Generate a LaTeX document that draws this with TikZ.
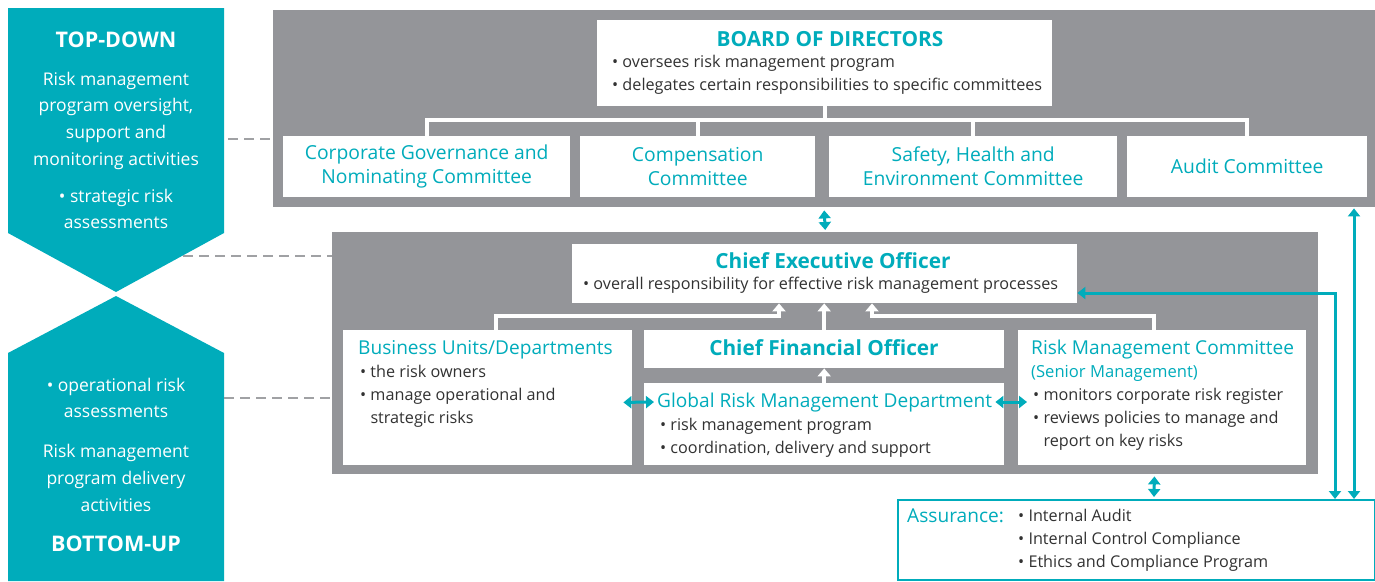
\documentclass[tikz,border=0pt]{standalone}
\usepackage{fontspec}
\setmainfont{Open Sans}
\usetikzlibrary{arrows.meta,calc}
\definecolor{teal1}{RGB}{0,172,187}
\definecolor{pgray}{RGB}{148,149,153}
\definecolor{tgray}{RGB}{50,50,50}
\definecolor{dgray}{RGB}{160,161,164}
\tikzset{
  panel/.style={fill=pgray,draw=none,inner sep=0pt,anchor=north west},
  wbox/.style={fill=white,draw=none,inner sep=0pt,anchor=north west},
  body/.style={text=tgray,font=\fontsize{16.2}{18}\selectfont,anchor=base west,inner sep=0pt},
  thead/.style={text=teal1,font=\fontsize{19.1}{24}\selectfont,anchor=base west,inner sep=0pt},
  chead/.style={text=teal1,font=\fontsize{19.3}{24}\selectfont,align=center,inner sep=0pt},
  bhead/.style={text=teal1,font=\bfseries\fontsize{20.8}{24}\selectfont,inner sep=0pt},
  ltext/.style={text=white,font=\fontsize{17.5}{20}\selectfont,anchor=base,inner sep=0pt},
  lbold/.style={text=white,font=\bfseries\fontsize{21.5}{24}\selectfont,inner sep=0pt},
  wline/.style={draw=white,line width=4pt,line join=miter},
  warrow/.style={draw=white,line width=4pt,line join=miter,-{Triangle[width=13pt,length=8pt]}},
  tarrow/.style={draw=teal1,line width=3pt,line join=miter,{Triangle[width=12pt,length=8pt]}-{Triangle[width=12pt,length=8pt]}},
  dline/.style={draw=dgray,line width=2.5pt,dash pattern=on 10pt off 6pt},
}
\begin{document}
\begin{tikzpicture}[x=1pt,y=-1pt]
\useasboundingbox (0,0) rectangle (1375,581);
% left teal arrows
\fill[teal1] (8,8) -- (224,8) -- (224,233) -- (116,292) -- (8,233) -- cycle;
\fill[teal1] (8,353) -- (116,296) -- (224,353) -- (224,581) -- (8,581) -- cycle;
\coordinate (tdr) at (224,139);
\coordinate (tdtip) at (183,256);
\coordinate (bur) at (224,398);
% panels
\node[panel,minimum width=1102pt,minimum height=197pt] (top) at (273,10) {};
\node[panel,minimum width=986pt,minimum height=242pt] (mid) at (332,232) {};
% dashed connectors
\draw[dline] (228,139) -- (top.west |- tdr);
\draw[dline] (tdtip) -- (mid.west |- tdtip);
\draw[dline] (bur) -- (mid.west |- bur);
% top boxes
\node[wbox,minimum width=455pt,minimum height=86pt] (board) at (597,20) {};
\node[wbox,minimum width=287pt,minimum height=61pt] (c1) at (283,136) {};
\node[wbox,minimum width=235pt,minimum height=61pt] (c2) at (580,136) {};
\node[wbox,minimum width=288pt,minimum height=61pt] (c3) at (829,136) {};
\node[wbox,minimum width=240pt,minimum height=61pt] (c4) at (1127,136) {};
% mid boxes
\node[wbox,minimum width=505pt,minimum height=59pt] (ceo) at (572,244) {};
\node[wbox,minimum width=289pt,minimum height=135pt] (bu) at (343,330) {};
\node[wbox,minimum width=360pt,minimum height=38pt] (cfo) at (644,330) {};
\node[wbox,minimum width=360pt,minimum height=82pt] (grmd) at (644,383) {};
\node[wbox,minimum width=288pt,minimum height=135pt] (rmc) at (1018,330) {};
\node[wbox,draw=teal1,line width=1.5pt,minimum width=477pt,minimum height=80pt] (assur) at (897,499) {};
% white tree
\draw[wline] (c1.north) -- ++(0,-16) -| (c4.north);
\draw[wline] (c2.north) -- ++(0,-16);
\draw[wline] (c3.north) -- ++(0,-16);
\draw[wline] (board.south) -- ++(0,15);
% white arrows to CEO
\draw[warrow] ($(bu.north west)+(153,0)$) |- ($(ceo.south west)+(207,13)$) -- ($(ceo.south west)+(207,0)$);
\draw[warrow] ($(rmc.north west)+(136,0)$) |- ($(ceo.south west)+(300,13)$) -- ($(ceo.south west)+(300,0)$);
\draw[warrow] (cfo.north) -- (cfo.north |- ceo.south);
\draw[warrow] (grmd.north) -- (cfo.south);
% teal arrows
\draw[tarrow] ($(top.south)+(0,3)$) -- ($(mid.north)+(0,-2)$);
\draw[tarrow] ($(mid.south east)+(-164,2)$) -- ($(assur.north west)+(257,-2)$);
\draw[tarrow] ($(bu.south east)+(-9,-63)$) -- ($(grmd.north west)+(10,19)$);
\draw[tarrow] ($(grmd.north east)+(-9,19)$) -- ($(rmc.north west)+(9,72)$);
\draw[tarrow] ($(ceo.north east)+(0,49)$) -| ($(assur.north west)+(438,0)$);
\draw[tarrow] ($(top.south west)+(1081,1)$) -- ($(assur.north west)+(457,0)$);
% left panel texts
\node[lbold] (tdh) at (116,40) {TOP-DOWN};
\node[ltext] (td1) at (116,85) {Risk management};
\node[ltext] (td2) at (116,111) {program oversight,};
\node[ltext] (td3) at (116,138) {support and};
\node[ltext] (td4) at (116,165) {monitoring activities};
\node[ltext] (td5) at (116,202) {• strategic risk};
\node[ltext] (td6) at (116,228) {assessments};
\node[ltext] (bu1t) at (116,391) {• operational risk};
\node[ltext] (bu2t) at (116,417) {assessments};
\node[ltext] (bu3t) at (116,457) {Risk management};
\node[ltext] (bu4t) at (116,484) {program delivery};
\node[ltext] (bu5t) at (116,511) {activities};
\node[lbold] (buh) at (116,544) {BOTTOM-UP};
% board texts
\node[bhead] (boardt) at (830,39) {BOARD OF DIRECTORS};
\node[body] (board1) at (612,67) {• oversees risk management program};
\node[body] (board2) at (612,90) {• delegates certain responsibilities to specific committees};
% committees
\node[chead] (c1t) at (c1.center) {Corporate Governance and\\Nominating Committee};
\node[chead] (c2t) at (c2.center) {Compensation\\Committee};
\node[chead] (c3t) at (c3.center) {Safety, Health and\\Environment Committee};
\node[chead] (c4t) at (c4.center) {Audit Committee};
% CEO
\node[bhead] (ceot) at (833,261) {Chief Executive Officer};
\node[body] (ceo1) at (583,289) {• overall responsibility for effective risk management processes};
% BU
\node[thead] (but) at (358,354) {Business Units/Departments};
\node[body] (bu1) at (360,377) {• the risk owners};
\node[body] (bu2) at (360,400) {• manage operational and};
\node[body] (bu3) at (360,423) {\phantom{• }strategic risks};
% CFO
\node[bhead] (cfot) at (824,348) {Chief Financial Officer};
% GRMD
\node[thead] (grmdt) at (657,407) {Global Risk Management Department};
\node[body] (grmd1) at (660,430) {• risk management program};
\node[body] (grmd2) at (660,453) {• coordination, delivery and support};
% RMC
\node[thead] (rmct) at (1031,354) {Risk Management Committee};
\node[thead,font=\fontsize{16.6}{20}\selectfont] (rmcs) at (1031,377) {(Senior Management)};
\node[body] (rmc1) at (1033,400) {• monitors corporate risk register};
\node[body] (rmc2) at (1033,423) {• reviews policies to manage and};
\node[body] (rmc3) at (1033,446) {\phantom{• }report on key risks};
% Assurance
\node[thead] (assurt) at (907,522) {Assurance:};
\node[body] (as1) at (1018,521) {• Internal Audit};
\node[body] (as2) at (1018,544) {• Internal Control Compliance};
\node[body] (as3) at (1018,567) {• Ethics and Compliance Program};
\end{tikzpicture}
\end{document}
